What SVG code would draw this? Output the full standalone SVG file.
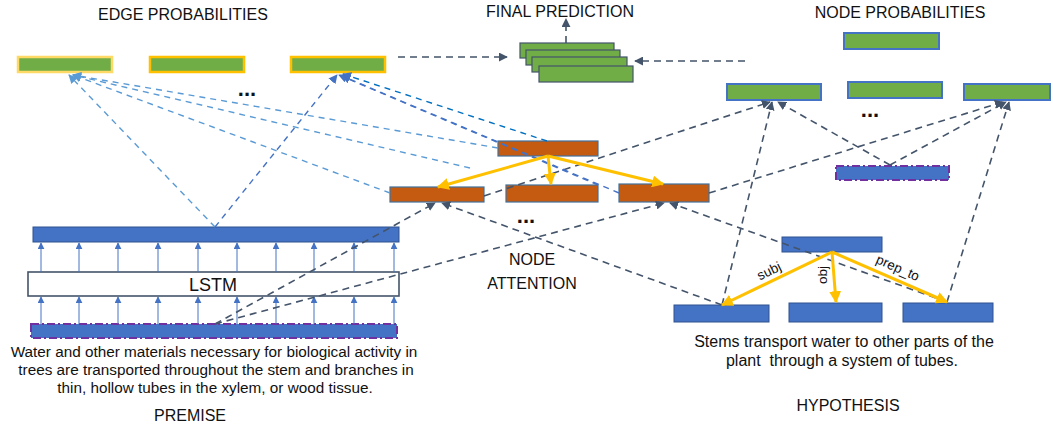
<svg xmlns="http://www.w3.org/2000/svg" width="1053" height="428" viewBox="0 0 1053 428">
<defs>
<style>
.title{font-family:"Liberation Sans",Arial,sans-serif;font-size:16px;fill:#111;text-anchor:middle}
.body{font-family:"Liberation Sans",Arial,sans-serif;font-size:15.3px;fill:#111;text-anchor:middle}
.hbody{font-family:"Liberation Sans",Arial,sans-serif;font-size:16px;fill:#111;text-anchor:middle}
.lbl{font-family:"Liberation Sans",Arial,sans-serif;font-size:13.5px;fill:#111;text-anchor:middle}
.lstm{font-family:"Liberation Sans",Arial,sans-serif;font-size:18px;fill:#111;text-anchor:middle}
.dots{font-family:"Liberation Sans",Arial,sans-serif;font-size:22px;font-weight:bold;fill:#111;text-anchor:middle}
.edge{fill:#70AD47;stroke:#FFC000;stroke-width:2.5}
.edge1{fill:#70AD47;stroke:#FFD966;stroke-width:2.5}
.nprob{fill:#70AD47;stroke:#4472C4;stroke-width:2}
.fp{fill:#70AD47;stroke:#44546A;stroke-width:1.2}
.att{fill:#C55A11;stroke:#41719C;stroke-width:1.2}
.bar{fill:#4472C4;stroke:#2F528F;stroke-width:1}
.pool{fill:#4472C4;stroke:#7030A0;stroke-width:2;stroke-dasharray:8 3 2 3}
.lstmbox{fill:#fff;stroke:#44546A;stroke-width:1.6}
.dk{fill:none;stroke:#44546A;stroke-width:1.6;stroke-dasharray:7 5}
.lb{fill:none;stroke:#5B9BD5;stroke-width:1.4;stroke-dasharray:6 5}
.mb{fill:none;stroke:#4472C4;stroke-width:1.4;stroke-dasharray:6 5}
.db{fill:none;stroke:#0070C0;stroke-width:1.4;stroke-dasharray:6 5}
.yl{fill:none;stroke:#FFC000;stroke-width:3}
.vt{fill:none;stroke:#4472C4;stroke-width:1}
</style>
<marker id="aDark" viewBox="0 0 10 10" refX="9" refY="5" markerWidth="9" markerHeight="9" orient="auto" markerUnits="userSpaceOnUse"><path d="M0,0 L10,5 L0,10 z" fill="#44546A"/></marker>
<marker id="aLight" viewBox="0 0 10 10" refX="9" refY="5" markerWidth="9" markerHeight="9" orient="auto" markerUnits="userSpaceOnUse"><path d="M0,0 L10,5 L0,10 z" fill="#5B9BD5"/></marker>
<marker id="aMed" viewBox="0 0 10 10" refX="9" refY="5" markerWidth="9" markerHeight="9" orient="auto" markerUnits="userSpaceOnUse"><path d="M0,0 L10,5 L0,10 z" fill="#4472C4"/></marker>
<marker id="aYel" viewBox="0 0 10 10" refX="9" refY="5" markerWidth="12" markerHeight="12" orient="auto" markerUnits="userSpaceOnUse"><path d="M0,0 L10,5 L0,10 z" fill="#FFC000"/></marker>
<marker id="aThin" viewBox="0 0 10 10" refX="9" refY="5" markerWidth="7" markerHeight="7" orient="auto" markerUnits="userSpaceOnUse"><path d="M0,0 L10,5 L0,10 z" fill="#4472C4"/></marker>
</defs>
<rect width="1053" height="428" fill="#fff"/>

<g id="labels">
<text class="title" x="183" y="20">EDGE PROBABILITIES</text>
<text class="title" x="560" y="17">FINAL PREDICTION</text>
<text class="title" x="900" y="18">NODE PROBABILITIES</text>
<text class="title" x="190" y="421">PREMISE</text>
<text class="title" x="848" y="411">HYPOTHESIS</text>
<text class="title" x="532" y="265">NODE</text>
<text class="title" x="532" y="289">ATTENTION</text>
<text class="dots" x="247" y="96">...</text>
<text class="dots" x="870" y="117">...</text>
<text class="dots" x="526" y="223">...</text>
</g>

<g id="edge-prob-1"><rect class="edge1" x="18" y="57" width="94" height="15"/></g>
<g id="edge-prob-2"><rect class="edge" x="150" y="57" width="94" height="15"/></g>
<g id="edge-prob-3"><rect class="edge" x="291" y="57" width="94" height="15"/></g>

<g id="final-prediction">
<rect class="fp" x="520" y="43" width="94" height="15"/>
<rect class="fp" x="526" y="50" width="94" height="15"/>
<rect class="fp" x="532" y="57" width="95" height="15"/>
<rect class="fp" x="539" y="66" width="94" height="16"/>
</g>

<g id="node-prob-top"><rect class="nprob" x="844" y="33" width="95" height="16"/></g>
<g id="node-prob-a"><rect class="nprob" x="727" y="84" width="94" height="16"/></g>
<g id="node-prob-b"><rect class="nprob" x="848" y="82" width="94" height="16"/></g>
<g id="node-prob-c"><rect class="nprob" x="964" y="84" width="86" height="16"/></g>

<g id="hyp-pooled"><rect class="pool" x="836" y="166" width="113" height="14"/></g>

<g id="att-top"><rect class="att" x="498" y="141" width="100" height="15"/></g>
<g id="att-left"><rect class="att" x="390" y="187" width="94" height="15"/></g>
<g id="att-mid"><rect class="att" x="506" y="185" width="92" height="17"/></g>
<g id="att-right"><rect class="att" x="619" y="184" width="90" height="18"/></g>

<g id="premise-top"><rect class="bar" x="33" y="227" width="366" height="15"/></g>
<g id="lstm"><rect class="lstmbox" x="28" y="272" width="371" height="24"/><text class="lstm" x="213" y="291">LSTM</text></g>
<g id="premise-embed"><rect class="pool" x="31" y="324" width="366" height="14"/></g>
<g id="premise-text">
<text class="body" x="214" y="357">Water and other materials necessary for biological activity in</text>
<text class="body" x="216" y="375">trees are transported throughout the stem and branches in</text>
<text class="body" x="215" y="393">thin, hollow tubes in the xylem, or wood tissue.</text>
</g>

<g id="hyp-root"><rect class="bar" x="782" y="237" width="100" height="15"/></g>
<g id="hyp-subj"><rect class="bar" x="674" y="305" width="95" height="17"/></g>
<g id="hyp-obj"><rect class="bar" x="789" y="303" width="93" height="19"/></g>
<g id="hyp-prep"><rect class="bar" x="903" y="303" width="90" height="19"/></g>
<g id="hyp-text">
<text class="hbody" x="844" y="347">Stems transport water to other parts of the</text>
<text class="hbody" x="842" y="366">plant&#160; through a system of tubes.</text>
</g>

<g id="connectors">
<g id="lstm-arrows" class="vt">
<line class="vt" x1="41" y1="324" x2="41" y2="297" marker-end="url(#aThin)"/>
<line class="vt" x1="79" y1="324" x2="79" y2="297" marker-end="url(#aThin)"/>
<line class="vt" x1="118" y1="324" x2="118" y2="297" marker-end="url(#aThin)"/>
<line class="vt" x1="158" y1="324" x2="158" y2="297" marker-end="url(#aThin)"/>
<line class="vt" x1="198" y1="324" x2="198" y2="297" marker-end="url(#aThin)"/>
<line class="vt" x1="237" y1="324" x2="237" y2="297" marker-end="url(#aThin)"/>
<line class="vt" x1="276" y1="324" x2="276" y2="297" marker-end="url(#aThin)"/>
<line class="vt" x1="314" y1="324" x2="314" y2="297" marker-end="url(#aThin)"/>
<line class="vt" x1="354" y1="324" x2="354" y2="297" marker-end="url(#aThin)"/>
<line class="vt" x1="394" y1="324" x2="394" y2="297" marker-end="url(#aThin)"/>
<line class="vt" x1="41" y1="272" x2="41" y2="243" marker-end="url(#aThin)"/>
<line class="vt" x1="79" y1="272" x2="79" y2="243" marker-end="url(#aThin)"/>
<line class="vt" x1="118" y1="272" x2="118" y2="243" marker-end="url(#aThin)"/>
<line class="vt" x1="158" y1="272" x2="158" y2="243" marker-end="url(#aThin)"/>
<line class="vt" x1="198" y1="272" x2="198" y2="243" marker-end="url(#aThin)"/>
<line class="vt" x1="237" y1="272" x2="237" y2="243" marker-end="url(#aThin)"/>
<line class="vt" x1="276" y1="272" x2="276" y2="243" marker-end="url(#aThin)"/>
<line class="vt" x1="314" y1="272" x2="314" y2="243" marker-end="url(#aThin)"/>
<line class="vt" x1="354" y1="272" x2="354" y2="243" marker-end="url(#aThin)"/>
<line class="vt" x1="394" y1="272" x2="394" y2="243" marker-end="url(#aThin)"/>
</g>
<path class="dk" marker-end="url(#aDark)" d="M398,57 L507,57"/>
<path class="dk" marker-end="url(#aDark)" d="M745,61 L635,61"/>
<path class="dk" marker-end="url(#aDark)" d="M566,43 L566,19"/>
<path class="dk" marker-end="url(#aDark)" d="M215,324 L435,203"/>
<path class="dk" marker-end="url(#aDark)" d="M215,324 L664,203"/>
<path class="dk" marker-end="url(#aDark)" d="M722,305 L442,203"/>
<path class="dk" marker-end="url(#aDark)" d="M947,302 L670,203"/>
<path class="dk" marker-end="url(#aDark)" d="M484,196 L770,102"/>
<path class="dk" marker-end="url(#aDark)" d="M722,305 L772,102"/>
<path class="dk" marker-end="url(#aDark)" d="M890,165 L778,102"/>
<path class="dk" marker-end="url(#aDark)" d="M709,193 L1003,102"/>
<path class="dk" marker-end="url(#aDark)" d="M890,165 L1006,102"/>
<path class="dk" marker-end="url(#aDark)" d="M947,302 L1009,102"/>

<path class="lb" marker-end="url(#aLight)" d="M215,227 L69,75"/>
<path class="lb" marker-end="url(#aLight)" d="M498,148 L73,75"/>
<path class="lb" marker-end="url(#aLight)" d="M470,168 L73,75"/>
<path class="lb" marker-end="url(#aLight)" d="M390,193 L73,75"/>

<path class="mb" marker-end="url(#aMed)" d="M215,227 L337,75"/>
<path class="mb" marker-end="url(#aMed)" d="M619,193 L342,76"/>
<path class="mb" marker-end="url(#aMed)" d="M598,185 L339,75"/>
<path class="db" marker-end="url(#aMed)" d="M547,141 L343,74"/>

<path class="yl" marker-end="url(#aYel)" d="M548,156 L438,187"/>
<path class="yl" marker-end="url(#aYel)" d="M548,156 L551,184"/>
<path class="yl" marker-end="url(#aYel)" d="M548,156 L663,184"/>
<path class="yl" marker-end="url(#aYel)" d="M832,252 L722,305"/>
<path class="yl" marker-end="url(#aYel)" d="M832,252 L836,302"/>
<path class="yl" marker-end="url(#aYel)" d="M832,252 L947,302"/>
<text class="lbl" x="771" y="275" transform="rotate(-26 771 275)">subj</text>
<text class="lbl" x="827" y="275" transform="rotate(-90 827 275)">obj</text>
<text class="lbl" x="896" y="272" transform="rotate(23.5 896 272)">prep_to</text>
</g>
</svg>
